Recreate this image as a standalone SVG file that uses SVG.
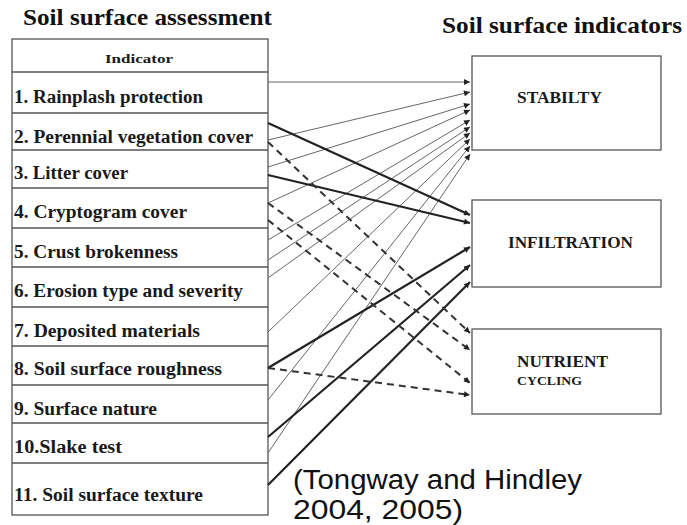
<svg xmlns="http://www.w3.org/2000/svg" width="687" height="525" viewBox="0 0 687 525">
<style>
.title{font-family:"Liberation Serif",serif;font-weight:bold;font-size:24px;fill:#111}
.row{font-family:"Liberation Serif",serif;font-weight:bold;font-size:18px;fill:#1a1a1a}
.hdr{font-family:"Liberation Serif",serif;font-weight:bold;font-size:12.5px;fill:#1a1a1a}
.box{fill:#fff;stroke:#555;stroke-width:1.3}
.grid{stroke:#555;stroke-width:1.3;fill:none}
.lbl{font-family:"Liberation Serif",serif;font-weight:bold;fill:#1a1a1a}
.thin{stroke:#666;stroke-width:1;fill:none}
.thick{stroke:#222;stroke-width:2.2;fill:none}
.dash{stroke:#333;stroke-width:2;stroke-dasharray:7 5;fill:none}
.cap{font-family:"Liberation Sans",Arial,sans-serif;font-size:27px;fill:#111}
</style>
<defs>
<marker id="ah" viewBox="0 0 10 10" refX="10" refY="5" markerWidth="7" markerHeight="6" markerUnits="userSpaceOnUse" orient="auto"><path d="M0,0 L10,5 L0,10 z" fill="#222"/></marker>
</defs>
<text class="title" x="23" y="25" textLength="249" lengthAdjust="spacingAndGlyphs">Soil surface assessment</text>
<text class="title" x="442" y="33" textLength="240" lengthAdjust="spacingAndGlyphs">Soil surface indicators</text>
<g id="table">
<rect class="grid" x="12" y="39" width="256" height="476"/>
<path class="grid" d="M12,72H268M12,113H268M12,150H268M12,188H268M12,228H268M12,267H268M12,307H268M12,346H268M12,385H268M12,423H268M12,463H268"/>
<text class="hdr" x="105" y="63" textLength="68" lengthAdjust="spacingAndGlyphs">Indicator</text>
<g id="ind1"><text class="row" x="14" y="103" textLength="189" lengthAdjust="spacingAndGlyphs">1. Rainplash protection</text></g>
<g id="ind2"><text class="row" x="14" y="143" textLength="239" lengthAdjust="spacingAndGlyphs">2. Perennial vegetation cover</text></g>
<g id="ind3"><text class="row" x="14" y="179" textLength="114" lengthAdjust="spacingAndGlyphs">3. Litter cover</text></g>
<g id="ind4"><text class="row" x="14" y="218" textLength="173" lengthAdjust="spacingAndGlyphs">4. Cryptogram cover</text></g>
<g id="ind5"><text class="row" x="14" y="258" textLength="164" lengthAdjust="spacingAndGlyphs">5. Crust brokenness</text></g>
<g id="ind6"><text class="row" x="14" y="297" textLength="229" lengthAdjust="spacingAndGlyphs">6. Erosion type and severity</text></g>
<g id="ind7"><text class="row" x="14" y="337" textLength="186" lengthAdjust="spacingAndGlyphs">7. Deposited materials</text></g>
<g id="ind8"><text class="row" x="14" y="375" textLength="208" lengthAdjust="spacingAndGlyphs">8. Soil surface roughness</text></g>
<g id="ind9"><text class="row" x="14" y="415" textLength="143" lengthAdjust="spacingAndGlyphs">9. Surface nature</text></g>
<g id="ind10"><text class="row" x="14" y="453" textLength="108" lengthAdjust="spacingAndGlyphs">10.Slake test</text></g>
<g id="ind11"><text class="row" x="14" y="501" textLength="189" lengthAdjust="spacingAndGlyphs">11. Soil surface texture</text></g>
</g>
<g id="stability"><rect class="box" x="472" y="56" width="189" height="94"/><text class="lbl" x="517" y="103" font-size="16" textLength="85" lengthAdjust="spacingAndGlyphs">STABILTY</text></g>
<g id="infiltration"><rect class="box" x="472" y="200" width="189" height="87"/><text class="lbl" x="508" y="248" font-size="16.5" textLength="125" lengthAdjust="spacingAndGlyphs">INFILTRATION</text></g>
<g id="nutrient"><rect class="box" x="472" y="329" width="189" height="85"/><text class="lbl" x="517" y="367" font-size="17" textLength="91" lengthAdjust="spacingAndGlyphs">NUTRIENT</text><text class="lbl" x="517" y="385" font-size="13.5" textLength="65" lengthAdjust="spacingAndGlyphs">CYCLING</text></g>
<g id="connectors">
<g marker-end="url(#ah)">
<path class="thin" d="M268,82L470,82"/>
<path class="thin" d="M268,140L470,92"/>
<path class="thin" d="M268,167L470,104"/>
<path class="thin" d="M268,203L470,110"/>
<path class="thin" d="M268,240L470,120"/>
<path class="thin" d="M268,260L470,127"/>
<path class="thin" d="M268,278L470,133"/>
<path class="thin" d="M268,332L470,139"/>
<path class="thin" d="M268,400L470,146"/>
<path class="thin" d="M268,453L470,154"/>
<path class="thick" d="M268,123L470,215"/>
<path class="thick" d="M268,175L470,223"/>
<path class="thick" d="M268,368L470,247"/>
<path class="thick" d="M268,437L470,265"/>
<path class="thick" d="M268,485L470,282"/>
<path class="dash" d="M268,142L470,333"/>
<path class="dash" d="M268,203L470,350"/>
<path class="dash" d="M268,220L470,383"/>
<path class="dash" d="M268,368L470,395"/>
</g>
</g>
<text class="cap" x="293" y="488.5" textLength="289" lengthAdjust="spacingAndGlyphs">(Tongway and Hindley</text>
<text class="cap" x="293" y="519" textLength="170" lengthAdjust="spacingAndGlyphs">2004, 2005)</text>
</svg>
